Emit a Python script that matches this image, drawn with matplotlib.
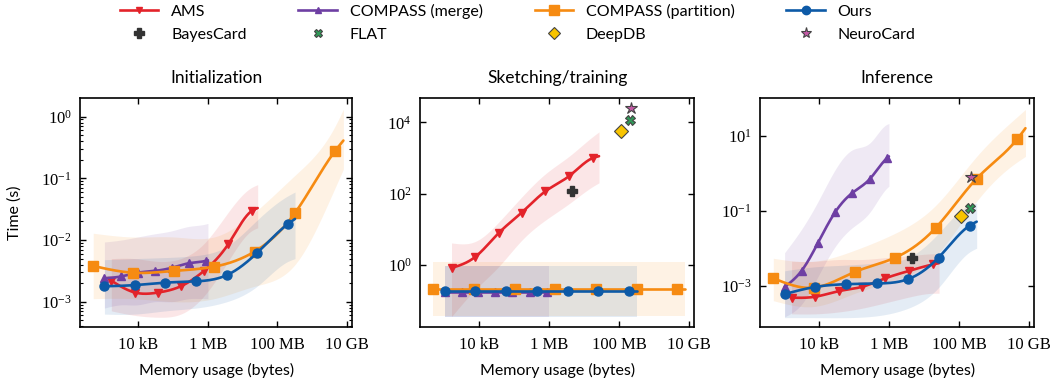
import numpy as np
import matplotlib
matplotlib.use("Agg")
import matplotlib.pyplot as plt
from matplotlib.lines import Line2D
from matplotlib.ticker import FixedLocator, NullLocator, LogLocator

plt.rcParams['font.family'] = ['Liberation Serif', 'DejaVu Serif']
plt.rcParams['mathtext.fontset'] = 'stix'
SANS = ['Lato', 'DejaVu Sans']

# memory usage (bytes); last entry of each method is an unmarked data point
ams_mem = [1.66e3, 7.9e3, 3.7e4, 1.66e5, 7.9e5, 3.8e6, 1.8e7, 2.7e7]
merge_mem = [1.05e3, 3.2e3, 9.5e3, 2.95e4, 9.1e4, 2.8e5, 8.7e5, 1.0e6]
part_mem = [5.0e2, 7.2e3, 1.07e5, 1.5e6, 2.2e7, 3.2e8, 4.6e9, 7.9e9]
ours_mem = [1.05e3, 7.9e3, 6.0e4, 4.6e5, 3.5e6, 2.6e7, 2.0e8, 3.2e8]

# single baselines: memory (bytes)
bayes_mem, flat_mem, deepdb_mem, neuro_mem = 4.5e6, 2.05e8, 1.15e8, 2.25e8

# --- Initialization (s) ---
init_ams = [2.19e-3, 1.41e-3, 1.41e-3, 1.78e-3, 3.2e-3, 8.5e-3, 2.95e-2, 3.3e-2]
init_ams_lo = [7.1e-4, 6.0e-4, 5.6e-4, 6.3e-4, 1.26e-3, 4.5e-3, 1.41e-2, 1.58e-2]
init_ams_hi = [5.0e-3, 5.0e-3, 4.5e-3, 5.0e-3, 8.9e-3, 2.8e-2, 7.1e-2, 7.9e-2]
init_merge = [2.4e-3, 2.57e-3, 2.95e-3, 3.16e-3, 3.55e-3, 4.2e-3, 4.6e-3, 4.7e-3]
init_merge_lo = [7.9e-4, 8.9e-4, 8.9e-4, 1.0e-3, 1.0e-3, 1.12e-3, 1.12e-3, 1.12e-3]
init_merge_hi = [9.3e-3, 1.0e-2, 1.12e-2, 1.26e-2, 1.41e-2, 1.66e-2, 1.82e-2, 1.86e-2]
init_part = [3.8e-3, 2.95e-3, 3.16e-3, 3.7e-3, 6.5e-3, 2.75e-2, 0.28, 0.41]
init_part_lo = [1.12e-3, 1.12e-3, 1.0e-3, 1.12e-3, 1.78e-3, 4.0e-3, 7.1e-2, 0.141]
init_part_hi = [1.29e-2, 1.12e-2, 1.12e-2, 1.12e-2, 2.8e-2, 0.112, 0.71, 1.32]
init_ours = [1.78e-3, 1.86e-3, 2.04e-3, 2.14e-3, 2.7e-3, 6.2e-3, 1.82e-2, 2.2e-2]
init_ours_lo = [6.3e-4, 6.3e-4, 7.1e-4, 7.9e-4, 1.0e-3, 1.78e-3, 4.5e-3, 5.0e-3]
init_ours_hi = [4.8e-3, 5.0e-3, 5.2e-3, 5.6e-3, 7.9e-3, 2.1e-2, 5.2e-2, 6.0e-2]

# --- Sketching/training (s) ---
train_ams = [0.81, 1.66, 7.8, 29.0, 115.0, 310.0, 1000.0, 1120.0]
train_ams_lo = [0.035, 0.2, 0.89, 4.8, 17.8, 52.0, 158.0, 200.0]
train_ams_hi = [4.1, 4.5, 15.8, 79.0, 355.0, 1120.0, 4000.0, 5400.0]
train_merge = [0.17] * 8
train_merge_lo = [0.035] * 8
train_merge_hi = [0.9] * 8
train_part = [0.21] * 8
train_part_lo = [0.037] * 8
train_part_hi = [1.23] * 8
train_ours = [0.18] * 8
train_ours_lo = [0.035] * 8
train_ours_hi = [0.9] * 8
train_bayes, train_flat, train_deepdb, train_neuro = 115.0, 12000.0, 5900.0, 26000.0

# --- Inference (s) ---
inf_ams = [4.8e-4, 5.1e-4, 7.2e-4, 9.3e-4, 1.58e-3, 2.5e-3, 3.7e-3, 4.0e-3]
inf_ams_lo = [1.78e-4, 1.78e-4, 2.0e-4, 2.5e-4, 3.5e-4, 5.0e-4, 6.3e-4, 6.3e-4]
inf_ams_hi = [4.5e-3, 4.5e-3, 5.0e-3, 5.0e-3, 5.6e-3, 6.3e-3, 7.1e-3, 7.1e-3]
inf_merge = [9.3e-4, 2.5e-3, 1.41e-2, 9.3e-2, 0.30, 0.69, 2.5, 2.8]
inf_merge_lo = [1.48e-4, 3.2e-4, 1.78e-3, 1.12e-2, 3.55e-2, 8.9e-2, 0.40, 0.45]
inf_merge_hi = [7.6e-3, 3.2e-2, 0.178, 1.26, 4.2, 6.3, 20.0, 21.0]
inf_part = [1.58e-3, 8.9e-4, 2.34e-3, 5.6e-3, 3.55e-2, 0.72, 8.1, 15.8]
inf_part_lo = [4.0e-4, 2.8e-4, 6.3e-4, 1.41e-3, 6.3e-3, 0.178, 2.0, 2.8]
inf_part_hi = [5.4e-3, 4.5e-3, 8.9e-3, 2.5e-2, 0.141, 2.8, 32.0, 50.0]
inf_ours = [6.0e-4, 9.3e-4, 1.1e-3, 1.15e-3, 1.5e-3, 5.6e-3, 4.0e-2, 5.1e-2]
inf_ours_lo = [1.41e-4, 1.41e-4, 1.41e-4, 1.58e-4, 2.5e-4, 8.9e-4, 7.9e-3, 1.0e-2]
inf_ours_hi = [2.5e-3, 3.2e-3, 3.55e-3, 4.0e-3, 5.6e-3, 2.5e-2, 0.141, 0.158]
inf_bayes, inf_flat, inf_deepdb, inf_neuro = 5.6e-3, 0.12, 0.074, 0.78

x_ticks = [1e4, 1e6, 1e8, 1e10]
x_tick_labels = ['10 kB', '1 MB', '100 MB', '10 GB']

colors = {'AMS': '#e3232a', 'COMPASS (merge)': '#6e3fa3',
          'COMPASS (partition)': '#f68b12', 'Ours': '#0d5aa7'}
markers = {'AMS': 'v', 'COMPASS (merge)': '^', 'COMPASS (partition)': 's', 'Ours': 'o'}
msizes = {'AMS': 5.5, 'COMPASS (merge)': 5.5, 'COMPASS (partition)': 7.5, 'Ours': 6.5}


def smooth(x, y, n=300):
    # natural cubic spline in log-log space
    u = np.log10(np.asarray(x, float))
    v = np.log10(np.asarray(y, float))
    m = len(u)
    h = np.diff(u)
    A = np.zeros((m, m))
    r = np.zeros(m)
    A[0, 0] = A[-1, -1] = 1
    for i in range(1, m - 1):
        A[i, i - 1] = h[i - 1]
        A[i, i] = 2 * (h[i - 1] + h[i])
        A[i, i + 1] = h[i]
        r[i] = 3 * ((v[i + 1] - v[i]) / h[i] - (v[i] - v[i - 1]) / h[i - 1])
    c = np.linalg.solve(A, r)
    b = (v[1:] - v[:-1]) / h - h * (2 * c[:-1] + c[1:]) / 3
    d = (c[1:] - c[:-1]) / (3 * h)
    uu = np.linspace(u[0], u[-1], n)
    idx = np.clip(np.searchsorted(u, uu) - 1, 0, m - 2)
    dx = uu - u[idx]
    vv = v[idx] + b[idx] * dx + c[idx] * dx ** 2 + d[idx] * dx ** 3
    return 10 ** uu, 10 ** vv


def draw_series(ax, name, mem, y, lo, hi):
    col = colors[name]
    xs, ys = smooth(mem, y)
    xl, ls = smooth(mem, lo)
    xh, hs = smooth(mem, hi)
    ax.fill_between(xs, ls, hs, color=col, alpha=0.11, lw=0)
    ax.plot(xs, ys, color=col, lw=1.9, solid_capstyle='round')
    ax.plot(mem[:-1], y[:-1], ls='none', marker=markers[name], ms=msizes[name],
            color=col, mec=col)


def draw_singles(ax, vals):
    bay, flt, ddb, neu = vals
    ax.plot(bayes_mem, bay, 'P', ms=7.5, color='#333333', mec='#333333', zorder=5)
    ax.plot(deepdb_mem, ddb, 'D', ms=7, color='#f8c400', mec='#444444', mew=0.8, zorder=5)
    ax.plot(flat_mem, flt, 'X', ms=7, color='#2f9a58', mec='#444444', mew=0.8, zorder=5)
    ax.plot(neuro_mem, neu, '*', ms=9, color='#c45aa6', mec='#444444', mew=0.8, zorder=6)


fig = plt.figure(figsize=(10.63, 3.84), dpi=100)
axes = [fig.add_axes([0.0753, 0.1484, 0.256, 0.596]),
        fig.add_axes([0.3951, 0.1484, 0.258, 0.596]),
        fig.add_axes([0.7150, 0.1484, 0.258, 0.596])]

panels = [
    ('Initialization',
     [(init_ams, init_ams_lo, init_ams_hi), (init_merge, init_merge_lo, init_merge_hi),
      (init_part, init_part_lo, init_part_hi), (init_ours, init_ours_lo, init_ours_hi)],
     None, (10 ** -3.41, 10 ** 0.30)),
    ('Sketching/training',
     [(train_ams, train_ams_lo, train_ams_hi), (train_merge, train_merge_lo, train_merge_hi),
      (train_part, train_part_lo, train_part_hi), (train_ours, train_ours_lo, train_ours_hi)],
     (train_bayes, train_flat, train_deepdb, train_neuro), (10 ** -1.75, 10 ** 4.68)),
    ('Inference',
     [(inf_ams, inf_ams_lo, inf_ams_hi), (inf_merge, inf_merge_lo, inf_merge_hi),
      (inf_part, inf_part_lo, inf_part_hi), (inf_ours, inf_ours_lo, inf_ours_hi)],
     (inf_bayes, inf_flat, inf_deepdb, inf_neuro), (10 ** -4.1, 10 ** 2.0)),
]
mems = [ams_mem, merge_mem, part_mem, ours_mem]
names = ['AMS', 'COMPASS (merge)', 'COMPASS (partition)', 'Ours']
y_major = [None, [1e0, 1e2, 1e4], [1e-3, 1e-1, 1e1]]

for k, (ax, (title, series, singles, ylim)) in enumerate(zip(axes, panels)):
    order = [1, 0, 2, 3] if k == 1 else [0, 1, 2, 3]
    for j in order:
        y, lo, hi = series[j]
        draw_series(ax, names[j], mems[j], y, lo, hi)
    if singles is not None:
        draw_singles(ax, singles)
    ax.set_xscale('log')
    ax.set_yscale('log')
    ax.set_xlim(10 ** 2.32, 10 ** 10.15)
    ax.set_ylim(*ylim)
    ax.xaxis.set_major_locator(FixedLocator(x_ticks))
    ax.set_xticklabels(x_tick_labels)
    ax.xaxis.set_minor_locator(NullLocator())
    if y_major[k] is not None:
        ax.yaxis.set_major_locator(FixedLocator(y_major[k]))
        ax.yaxis.set_minor_locator(NullLocator())
    else:
        ax.yaxis.set_major_locator(LogLocator(base=10))
        ax.yaxis.set_minor_locator(LogLocator(base=10, subs=np.arange(2, 10)))
    ax.tick_params(which='both', direction='in', top=True, right=True, labelsize=12,
                   width=1.0)
    ax.tick_params(axis='x', which='major', pad=7)
    ax.tick_params(axis='y', which='major', pad=6)
    ax.tick_params(which='major', length=4.5)
    ax.tick_params(which='minor', length=2.5, width=0.8)
    for s in ax.spines.values():
        s.set_linewidth(1.2)
    ax.set_title(title, family=SANS, fontsize=12.5, pad=11)
    ax.set_xlabel('Memory usage (bytes)', family=SANS, fontsize=11.5, labelpad=7)

axes[0].set_ylabel('Time (s)', family=SANS, fontsize=11.5, labelpad=14)

# legend
h = {}
for n in names:
    h[n] = Line2D([], [], color=colors[n], lw=1.9, marker=markers[n], ms=msizes[n] - 0.5)
h['BayesCard'] = Line2D([], [], ls='none', marker='P', ms=6.5, color='#333333')
h['FLAT'] = Line2D([], [], ls='none', marker='X', ms=6, color='#2f9a58', mec='#444444', mew=0.8)
h['DeepDB'] = Line2D([], [], ls='none', marker='D', ms=6, color='#f8c400', mec='#444444', mew=0.8)
h['NeuroCard'] = Line2D([], [], ls='none', marker='*', ms=8, color='#c45aa6', mec='#444444', mew=0.8)
leg_order = ['AMS', 'BayesCard', 'COMPASS (merge)', 'FLAT',
             'COMPASS (partition)', 'DeepDB', 'Ours', 'NeuroCard']
fig.legend([h[n] for n in leg_order], leg_order, ncol=4, loc='upper center',
           bbox_to_anchor=(0.487, 1.027), frameon=False, prop={'family': SANS, 'size': 11.5},
           columnspacing=3.25, handlelength=2.4, handletextpad=0.8, labelspacing=0.55)

fig.savefig('out.png', dpi=100)
